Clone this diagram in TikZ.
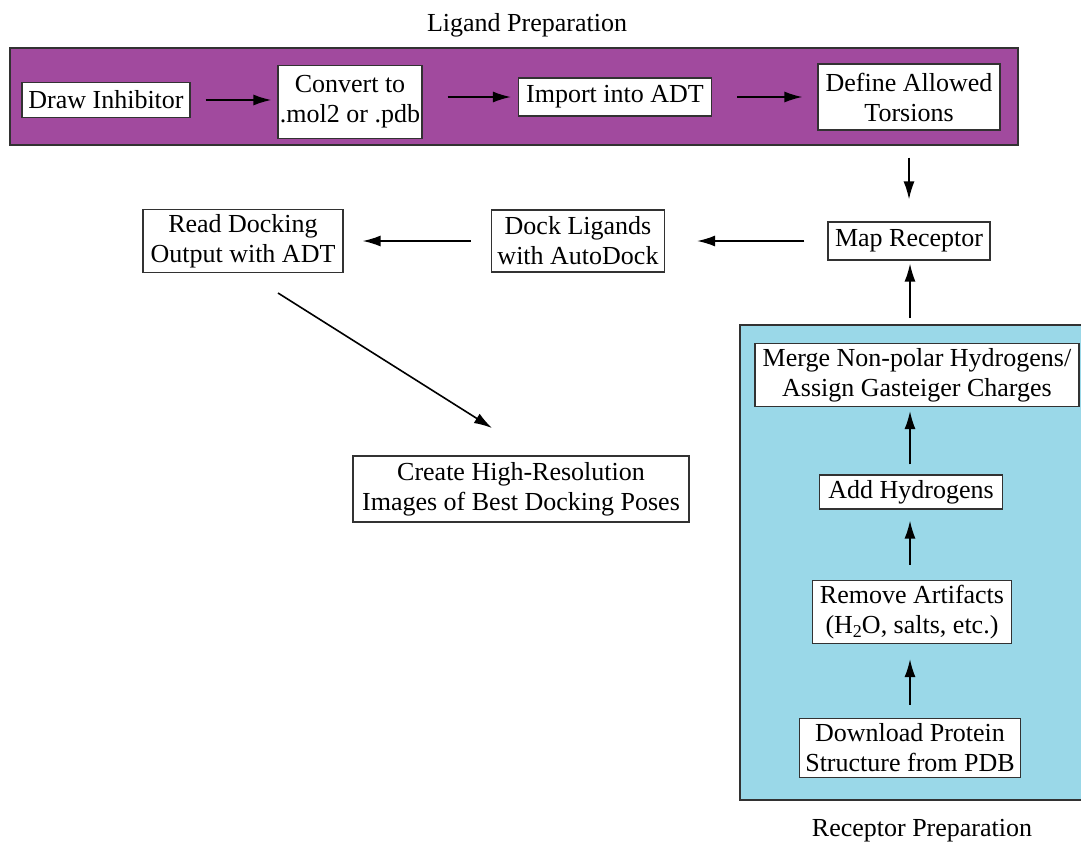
\documentclass[tikz,border=0pt]{standalone}
\usepackage{fontspec}
\setmainfont{Liberation Serif}
\usetikzlibrary{arrows.meta}
\definecolor{ligpurple}{RGB}{161,74,158}
\definecolor{reccyan}{RGB}{154,216,232}
\definecolor{edgegray}{RGB}{50,50,50}
\begin{document}
\begin{tikzpicture}[x=1pt,y=-1pt,
  every node/.style={font=\fontsize{26}{30}\selectfont},
  box/.style={draw=edgegray,line width=1.2pt,fill=white,align=center,inner xsep=2pt,inner ysep=2pt},
  panel/.style={draw=edgegray,line width=1.5pt},
  arr/.style={-{Latex[length=18pt,width=11pt]},line width=1.6pt,black}]
\useasboundingbox (0,0) rectangle (1081,846);
% panels
\draw[panel,fill=ligpurple] (10,48) rectangle (1018,145);
\draw[panel,fill=reccyan] (740,325) rectangle (1082,800);
\node (ligtitle) at (527,25) {Ligand Preparation};
\node (rectitle) at (922,831) {Receptor Preparation};
% ligand row
\node[box,minimum width=168pt,minimum height=35pt] (draw) at (106,100) {Draw Inhibitor};
\node[box,minimum width=144pt,minimum height=73pt] (convert) at (350,102) {Convert to\\.mol2 or .pdb};
\node[box,minimum width=193pt,minimum height=38pt] (import) at (615,97) {Import into ADT};
\node[box,minimum width=182pt,minimum height=66pt] (define) at (909,97) {Define Allowed\\Torsions};
% middle row
\node[box,minimum width=162pt,minimum height=38pt] (map) at (909,241) {Map Receptor};
\node[box,minimum width=173pt,minimum height=62pt] (dock) at (578,241) {Dock Ligands\\with AutoDock};
\node[box,minimum width=200pt,minimum height=63pt] (read) at (243,241) {Read Docking\\Output with ADT};
\node[box,minimum width=336pt,minimum height=66pt] (create) at (521,489) {Create High-Resolution\\Images of Best Docking Poses};
% receptor column
\node[box,minimum width=324pt,minimum height=63pt] (merge) at (917,375) {Merge Non-polar Hydrogens/\\Assign Gasteiger Charges};
\node[box,minimum width=183pt,minimum height=34pt] (addh) at (911,492) {Add Hydrogens};
\node[box,minimum width=199pt,minimum height=63pt] (remove) at (912,612) {Remove Artifacts\\(H\raisebox{-0.35ex}{\fontsize{18}{18}\selectfont 2}O, salts, etc.)};
\node[box,minimum width=221pt,minimum height=59pt] (download) at (910,748) {Download Protein\\Structure from PDB};
% connectors
\draw[arr,shorten <=15pt,shorten >=6pt] (draw) -- (convert.west |- draw);
\draw[arr,shorten <=25pt,shorten >=7pt] (convert.east |- import) -- (import);
\draw[arr,shorten <=25pt,shorten >=15pt] (import) -- (define.west |- import);
\draw[arr,shorten <=27pt,shorten >=22pt] (define.south -| map) -- (map);
\draw[arr,shorten <=23pt,shorten >=32pt] (map) -- (dock);
\draw[arr,shorten <=20pt,shorten >=19pt] (dock) -- (read);
\coordinate (diagA) at (278,293);
\coordinate (diagB) at (492,428);
\draw[arr] (diagA) -- (diagB);
\coordinate (recTop) at (910,318);
\draw[arr,shorten >=3pt] (recTop) -- (map.south -| recTop);
\draw[arr,shorten <=10pt,shorten >=4pt] (addh.north -| 910,0) -- (merge.south -| 910,0);
\draw[arr,shorten <=15pt,shorten >=11pt] (remove.north -| 910,0) -- (addh.south -| 910,0);
\draw[arr,shorten <=13pt,shorten >=15pt] (download.north -| 910,0) -- (remove.south -| 910,0);
\end{tikzpicture}
\end{document}
